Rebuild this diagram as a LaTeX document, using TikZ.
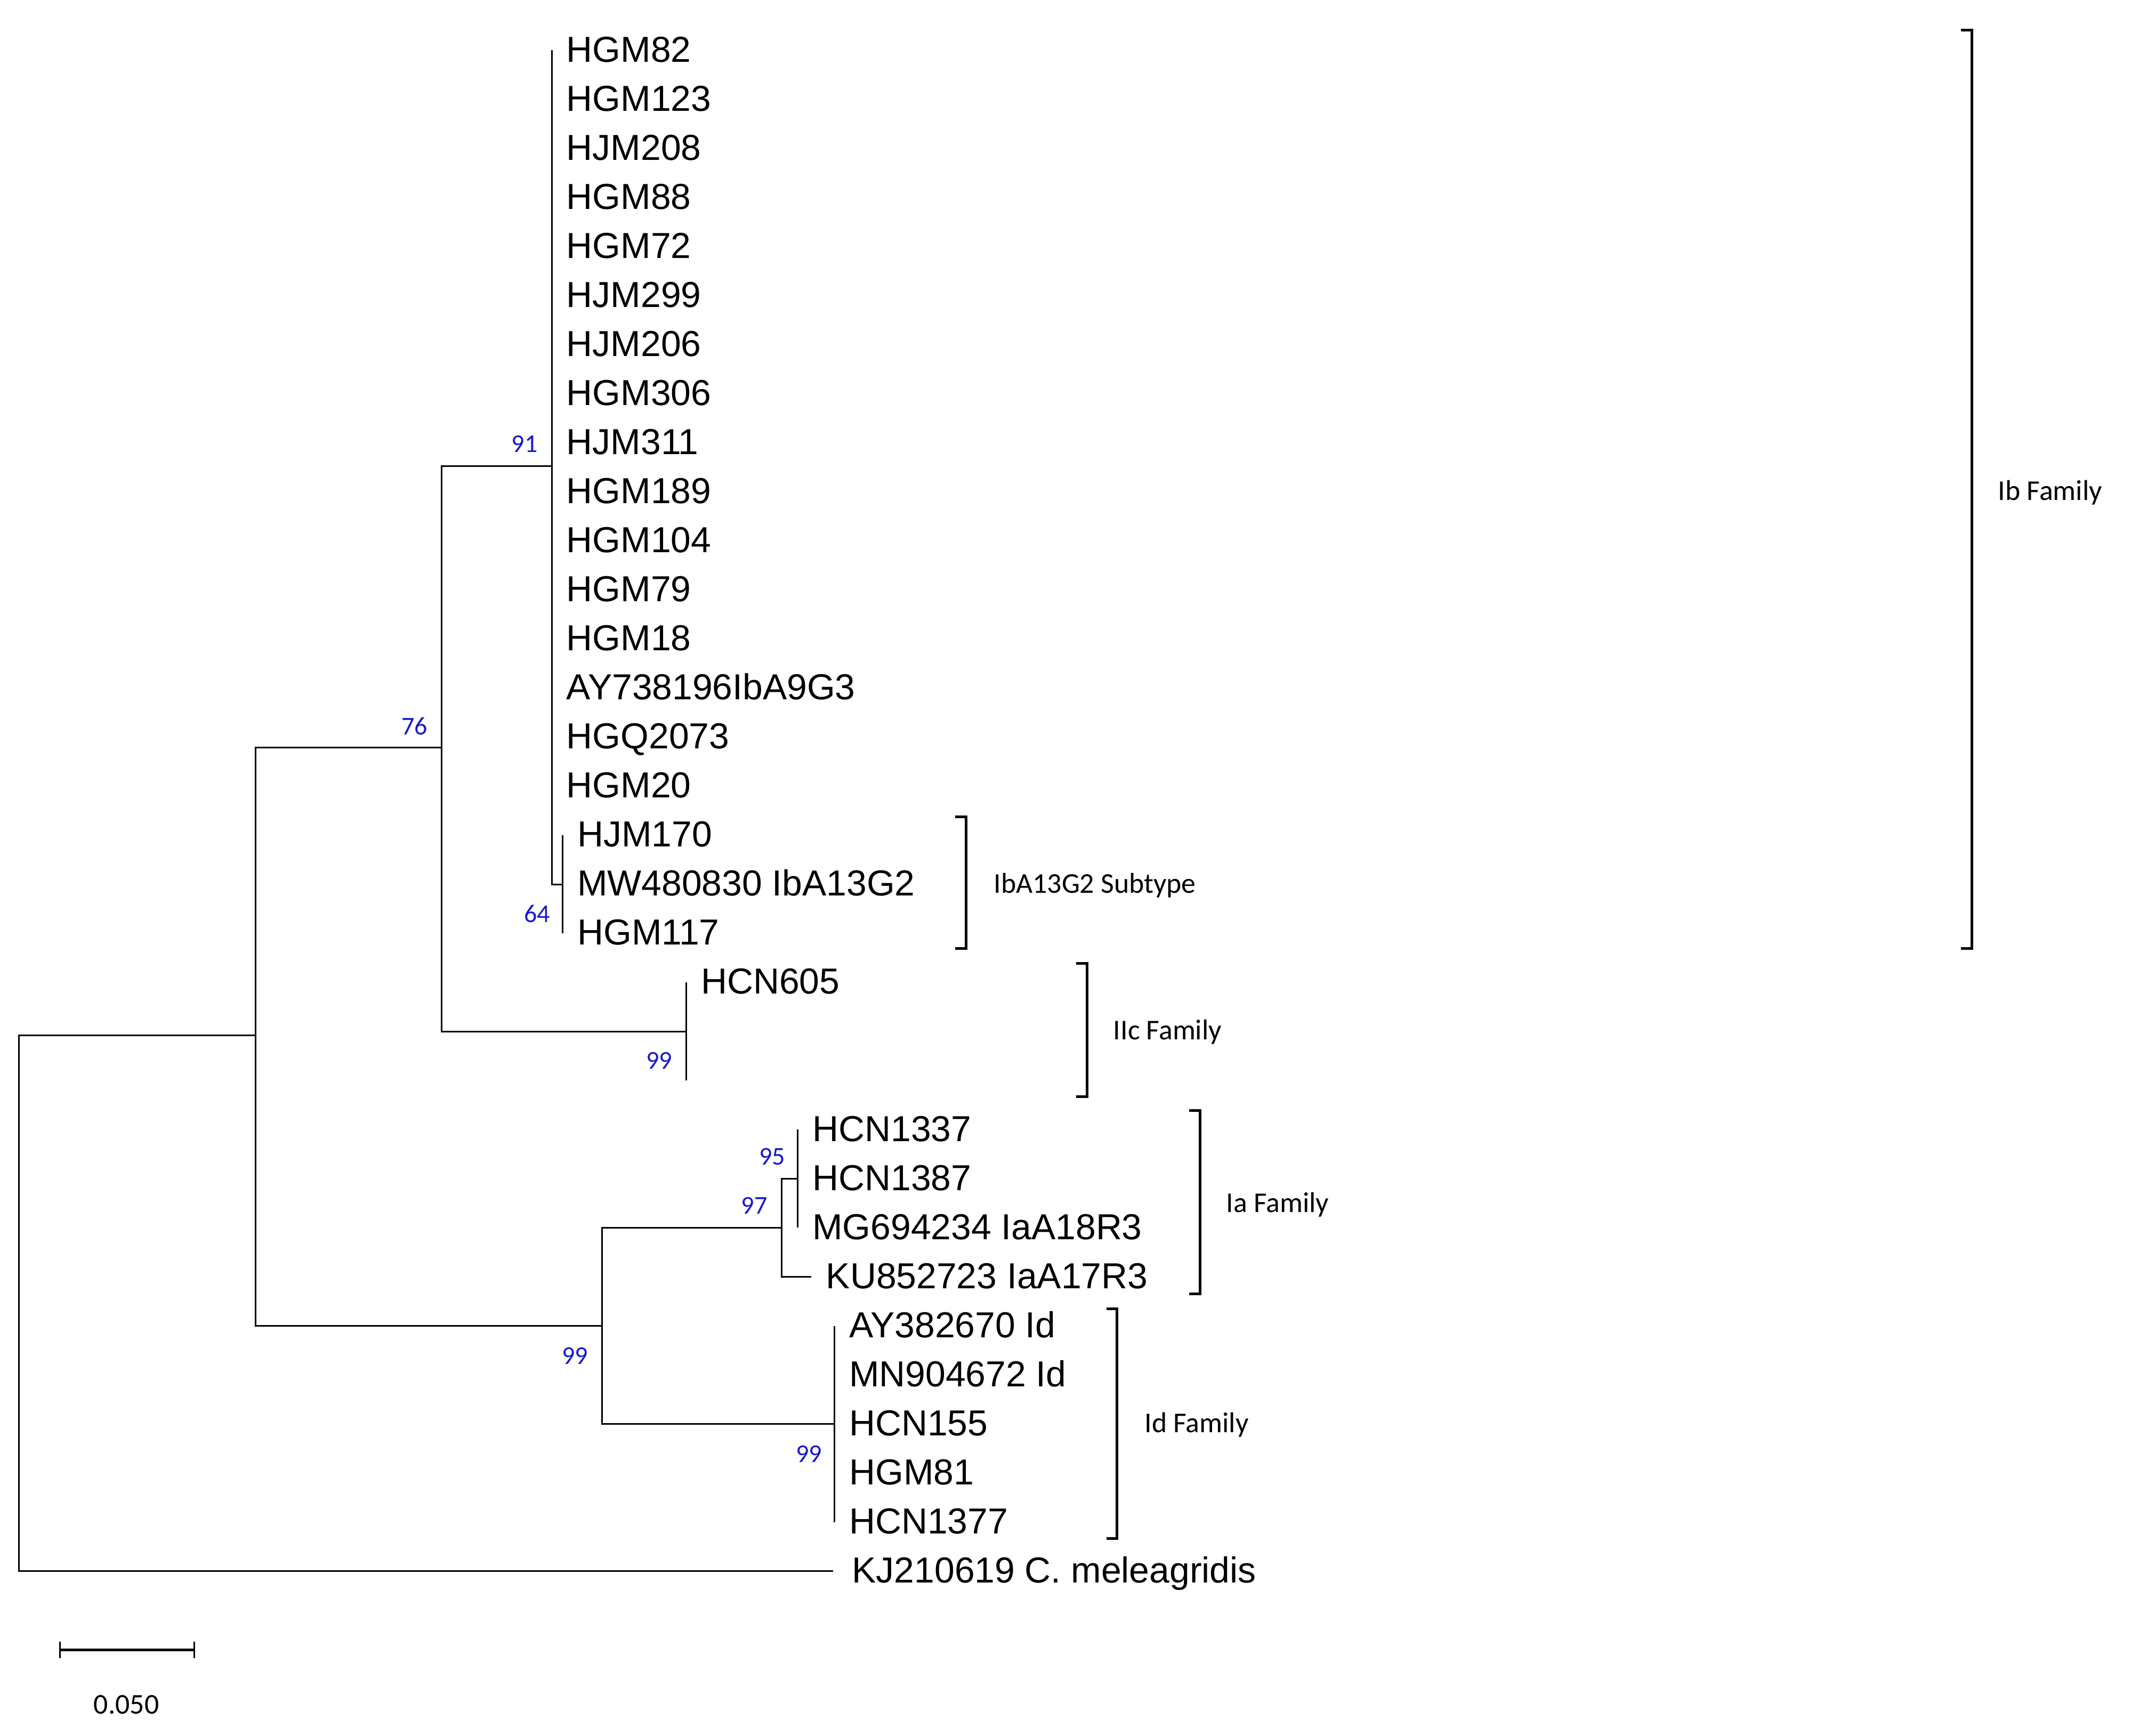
\documentclass[tikz,border=0pt]{standalone}
\usepackage{fontspec}
\setmainfont{Liberation Sans}
\newfontfamily\kisbetu{Carlito}
\usetikzlibrary{positioning}
\definecolor{tamkek}{RGB}{25,25,205}
\tikzset{
  ag/.style={line width=0.85pt},
  zar/.style={line width=1.4pt},
  lev/.style={anchor=west,inner sep=0pt,xshift=0.27cm,yshift=-0.09cm,text height=0.72em,text depth=0pt,
    font=\fontsize{19.3}{22}\selectfont},
  tam/.style={inner sep=0pt,text=tamkek,font=\kisbetu\fontsize{13.7}{16}\selectfont},
  csal/.style={anchor=west,inner sep=0pt,yshift=-0.07cm,text height=0.64em,text depth=0pt,
    font=\kisbetu\fontsize{15.3}{18}\selectfont},
}
\begin{document}
\begin{tikzpicture}[x=0.0255cm,y=-0.0255cm]
  \useasboundingbox (0,0) rectangle (1568,1277);
  % belso csucsok
  \coordinate (gy) at (14,959);
  \coordinate (n1) at (188,762);
  \coordinate (n76) at (325,550);
  \coordinate (n91) at (406,343);
  \coordinate (n64) at (414,650.7);
  \coordinate (n605) at (505,759);
  \coordinate (n99a) at (443,975.6);
  \coordinate (n97) at (575,903.4);
  \coordinate (n95) at (587,867.3);
  \coordinate (n99d) at (614,1047.8);
  % Ib
  \foreach \n [count=\i from 0] in {HGM82,HGM123,HJM208,HGM88,HGM72,HJM299,HJM206,HGM306,
      HJM311,HGM189,HGM104,HGM79,HGM18,AY738196IbA9G3,HGQ2073,HGM20}{
    \coordinate (t\i) at (406,{37+36.1*\i});
    \node[lev] (\n) at (t\i) {\n};
  }
  \draw[ag] (t0) -- (t0 |- n64) -- (n64);
  \coordinate (t16) at (414,614.6); \node[lev] (HJM170) at (t16) {HJM170};
  \coordinate (t17) at (414,650.7); \node[lev] (MW480830) at (t17) {MW480830 IbA13G2};
  \coordinate (t18) at (414,686.8); \node[lev] (HGM117) at (t18) {HGM117};
  \draw[ag] (t16) -- (t18);
  % IIc
  \coordinate (t19) at (505,722.9); \node[lev] (HCN605) at (t19) {HCN605};
  \coordinate (t21) at (505,795.1);
  \draw[ag] (t19) -- (t21);
  % Ia
  \coordinate (t22) at (587,831.2); \node[lev] (HCN1337) at (t22) {HCN1337};
  \coordinate (t23) at (587,867.3); \node[lev] (HCN1387) at (t23) {HCN1387};
  \coordinate (t24) at (587,903.4); \node[lev] (MG694234) at (t24) {MG694234 IaA18R3};
  \coordinate (t25) at (597,939.5); \node[lev] (KU852723) at (t25) {KU852723 IaA17R3};
  \draw[ag] (t22) -- (t24);
  \draw[ag] (n97) |- (n95);
  \draw[ag] (n97) |- (t25);
  % Id
  \coordinate (t26) at (614,975.6); \node[lev] (AY382670) at (t26) {AY382670 Id};
  \coordinate (t27) at (614,1011.7); \node[lev] (MN904672) at (t27) {MN904672 Id};
  \coordinate (t28) at (614,1047.8); \node[lev] (HCN155) at (t28) {HCN155};
  \coordinate (t29) at (614,1083.9); \node[lev] (HGM81) at (t29) {HGM81};
  \coordinate (t30) at (614,1120); \node[lev] (HCN1377) at (t30) {HCN1377};
  \draw[ag] (t26) -- (t30);
  % kulso csoport
  \coordinate (t31) at (613,1156.1);
  \node[lev,xshift=0.08cm] (KJ210619) at (t31) {KJ210619 C. meleagridis};
  % agak
  \draw[ag] (gy) |- (n1);
  \draw[ag] (gy) |- (t31);
  \draw[ag] (n1) |- (n76);
  \draw[ag] (n1) |- (n99a);
  \draw[ag] (n76) |- (n91);
  \draw[ag] (n76) |- (n605);
  \draw[ag] (n99a) |- (n97);
  \draw[ag] (n99a) |- (n99d);
  % bootstrap
  \node[tam,above left=0.25cm and 0.26cm of n91] (b91) {91};
  \node[tam,above left=0.23cm and 0.26cm of n76] (b76) {76};
  \node[tam,below left=0.38cm and 0.23cm of n64] (b64) {64};
  \node[tam,below left=0.38cm and 0.26cm of n605] (b99c) {99};
  \node[tam,above left=0.25cm and 0.23cm of n95] (b95) {95};
  \node[tam,above left=0.25cm and 0.26cm of n97] (b97) {97};
  \node[tam,below left=0.4cm and 0.26cm of n99a] (b99a) {99};
  \node[tam,below left=0.4cm and 0.23cm of n99d] (b99d) {99};
  % zarojelek
  \draw[zar] (1443,22) -- (1451,22) -- (1451,698) -- (1443,698);
  \node[csal] (ib) at (1470,361) {Ib Family};
  \draw[zar] (703,601) -- (711,601) -- (711,698) -- (703,698);
  \node[csal] (iba) at (731,650) {IbA13G2 Subtype};
  \draw[zar] (792,709) -- (800,709) -- (800,807) -- (792,807);
  \node[csal] (iic) at (819,758) {IIc Family};
  \draw[zar] (875,817) -- (883,817) -- (883,952) -- (875,952);
  \node[csal] (ia) at (902,885) {Ia Family};
  \draw[zar] (814,963) -- (822,963) -- (822,1132) -- (814,1132);
  \node[csal] (id) at (842,1047) {Id Family};
  % skala
  \draw[zar] (44,1214) -- (143,1214);
  \draw[ag] (44,1208) -- (44,1220) (143,1208) -- (143,1220);
  \node[csal,anchor=center] (sk) at (93,1254) {0.050};
\end{tikzpicture}
\end{document}
